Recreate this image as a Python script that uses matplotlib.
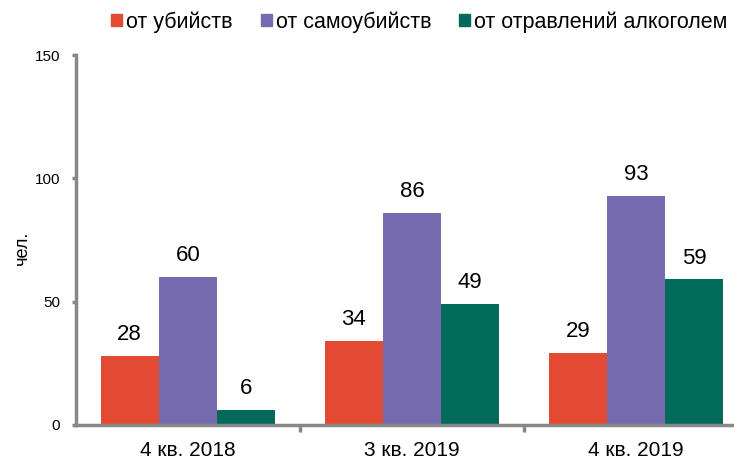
import numpy as np
import matplotlib.pyplot as plt
import matplotlib.transforms as mtransforms
from matplotlib.patches import Patch

plt.rcParams['font.family'] = ['Liberation Sans', 'DejaVu Sans']

periods = ['4 кв. 2018', '3 кв. 2019', '4 кв. 2019']
series_names = ['от убийств', 'от самоубийств', 'от отравлений алкоголем']
murders = [28, 34, 29]
suicides = [60, 86, 93]
alcohol = [6, 49, 59]
colors = ['#E34A33', '#766BAF', '#006B5A']

fig = plt.figure(figsize=(7.34, 4.59), dpi=100)
ax = fig.add_axes([0.1035, 0.0741, 0.9155, 0.806])

x = np.arange(len(periods)) + 0.5
w = 0.26
for k, vals in enumerate([murders, suicides, alcohol]):
    bars = ax.bar(x + (k - 1) * w, vals, width=w, color=colors[k], zorder=2)
    for b, v in zip(bars, vals):
        ax.annotate(str(v), (b.get_x() + b.get_width() / 2, v),
                    xytext=(0, 11.5), textcoords='offset points',
                    ha='center', va='baseline', fontsize=16)

ax.set_xlim(0, 3)
ax.set_ylim(0, 150)
ax.set_yticks([0, 50, 100, 150])
ax.set_xticks([1, 2])
ax.set_xticklabels([])
ax.tick_params(axis='y', labelsize=11, length=3, width=2.5, color='#888888', pad=8.5)
ax.tick_params(axis='x', length=5, width=2.5, color='#888888')

# category labels near the bottom edge
trans = mtransforms.blended_transform_factory(ax.transData, fig.transFigure)
for xi, name in zip(x, periods):
    ax.text(xi, 3 / 459, name, transform=trans, ha='center', va='baseline', fontsize=15)

for s in ['top', 'right']:
    ax.spines[s].set_visible(False)
for s in ['left', 'bottom']:
    ax.spines[s].set_color('#888888')
    ax.spines[s].set_linewidth(2.5)

fig.text(0.031, 0.46, 'чел.', rotation=90, ha='center', va='center', fontsize=13)

handles = [Patch(color=c) for c in colors]
fig.legend(handles, series_names, loc='center', bbox_to_anchor=(0.5715, 0.952),
           ncol=3, frameon=False, fontsize=15.5, handlelength=0.51, handleheight=0.51,
           handletextpad=0.19, columnspacing=1.3)

fig.savefig('out.png', dpi=100)
